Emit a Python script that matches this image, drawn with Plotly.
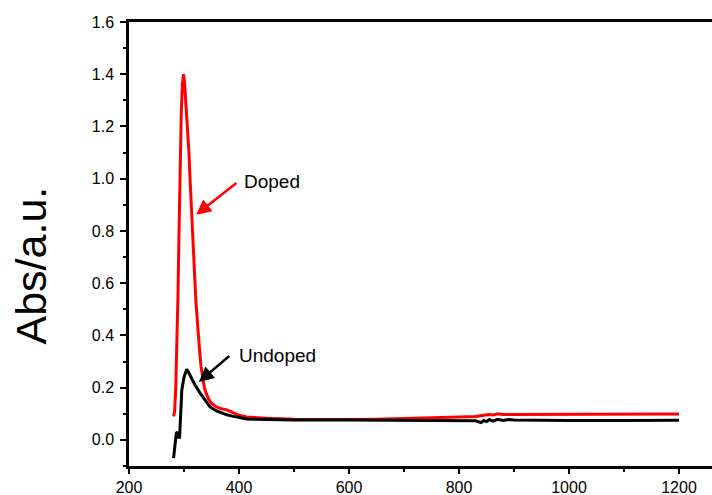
import plotly.graph_objects as go

# Doped (red)
doped_x = [281, 283, 285, 287, 289, 291, 293, 295, 297, 299, 301, 303, 305, 307, 309, 311, 313, 315, 318, 320,
           322, 324, 328, 331, 334, 337, 340, 345, 350, 360, 370, 378, 385, 392, 400, 414, 430, 450, 500, 550,
           600, 650, 700, 750, 800, 830, 845, 855, 862, 870, 880, 900, 950, 1000, 1100, 1200]
doped_y = [0.09, 0.11, 0.20, 0.35, 0.55, 0.80, 1.05, 1.25, 1.36, 1.40, 1.37, 1.30, 1.25, 1.20, 1.10, 1.00, 0.90,
           0.80, 0.68, 0.60, 0.52, 0.45, 0.35, 0.28, 0.23, 0.20, 0.18, 0.155, 0.14, 0.125, 0.118, 0.115, 0.108,
           0.10, 0.094, 0.088, 0.085, 0.083, 0.079, 0.078, 0.078, 0.079, 0.081, 0.085, 0.088, 0.090, 0.094, 0.097,
           0.095, 0.100, 0.097, 0.097, 0.098, 0.099, 0.099, 0.099]

# Undoped (black)
undoped_x = [281, 283, 286, 288, 290, 292, 294, 296, 300, 303, 305, 308, 315, 320, 329, 340, 347, 360, 370, 378,
             390, 400, 414, 450, 500, 600, 700, 800, 830, 840, 845, 850, 855, 862, 870, 880, 890, 900, 950, 1000,
             1100, 1200]
undoped_y = [-0.07, -0.02, 0.025, 0.03, 0.01, 0.01, 0.10, 0.19, 0.24, 0.265, 0.27, 0.26, 0.23, 0.21, 0.18,
             0.145, 0.127, 0.11, 0.102, 0.096, 0.09, 0.085, 0.08, 0.078, 0.076, 0.076, 0.075, 0.073, 0.073, 0.066,
             0.074, 0.070, 0.078, 0.072, 0.079, 0.074, 0.078, 0.076, 0.074, 0.074, 0.074, 0.075]

x_ticks = [200, 400, 600, 800, 1000, 1200]
y_ticks = [0.0, 0.2, 0.4, 0.6, 0.8, 1.0, 1.2, 1.4, 1.6]

fig = go.Figure()
fig.add_trace(go.Scatter(x=doped_x, y=doped_y, mode="lines", line=dict(color="#ff0000", width=3),
                         showlegend=False))
fig.add_trace(go.Scatter(x=undoped_x, y=undoped_y, mode="lines", line=dict(color="#000000", width=3),
                         showlegend=False))

font = dict(family="Arial, Liberation Sans, sans-serif", color="black")

# arrows
fig.add_annotation(x=322, y=0.862, ax=398, ay=0.988, xref="x", yref="y", axref="x", ayref="y",
                   text="", showarrow=True, arrowhead=2, arrowsize=1.2, arrowwidth=2.5, arrowcolor="#ff0000")
fig.add_annotation(x=406, y=0.99, xref="x", yref="y", text="Doped", showarrow=False, xanchor="left",
                   yanchor="middle", font=dict(size=19, **font))
fig.add_annotation(x=327, y=0.222, ax=385, ay=0.326, xref="x", yref="y", axref="x", ayref="y",
                   text="", showarrow=True, arrowhead=2, arrowsize=1.2, arrowwidth=2.5, arrowcolor="#000000")
fig.add_annotation(x=397, y=0.322, xref="x", yref="y", text="Undoped", showarrow=False, xanchor="left",
                   yanchor="middle", font=dict(size=19, **font))

# y title
fig.add_annotation(x=-99 / 583, y=(466 - 265.5) / 444, xref="paper", yref="paper", text="Abs/a.u.",
                   textangle=-90, xanchor="center", yanchor="middle", showarrow=False,
                   font=dict(size=43, **font))

fig.update_layout(
    width=712, height=495,
    margin=dict(l=129, r=0, t=22, b=29),
    plot_bgcolor="white", paper_bgcolor="white",
    font=font,
)
fig.update_xaxes(range=[200, 200 + 583 / 0.55], tickvals=x_ticks, showline=True, linewidth=2.5, linecolor="black",
                 mirror=True, ticks="outside", ticklen=5, tickwidth=2, tickcolor="black", showgrid=False,
                 zeroline=False, tickfont=dict(size=16, **font),
                 minor=dict(dtick=100, tick0=200, ticks="outside", ticklen=3, tickwidth=2, tickcolor="black",
                            showgrid=False))
fig.update_yaxes(range=[-0.1, 1.6], tickvals=y_ticks, ticktext=[f"{v:.1f}" for v in y_ticks], showline=True,
                 linewidth=2.5, linecolor="black", ticks="outside", ticklen=6, tickwidth=2, tickcolor="black",
                 showgrid=False, zeroline=False, tickfont=dict(size=16, **font), ticklabelstandoff=3,
                 minor=dict(dtick=0.1, tick0=0, ticks="outside", ticklen=3, tickwidth=2, tickcolor="black",
                            showgrid=False))

fig.write_html("out.html", config={"displayModeBar": False},
               post_script="document.body.style.margin='0';document.body.style.overflow='hidden';")
